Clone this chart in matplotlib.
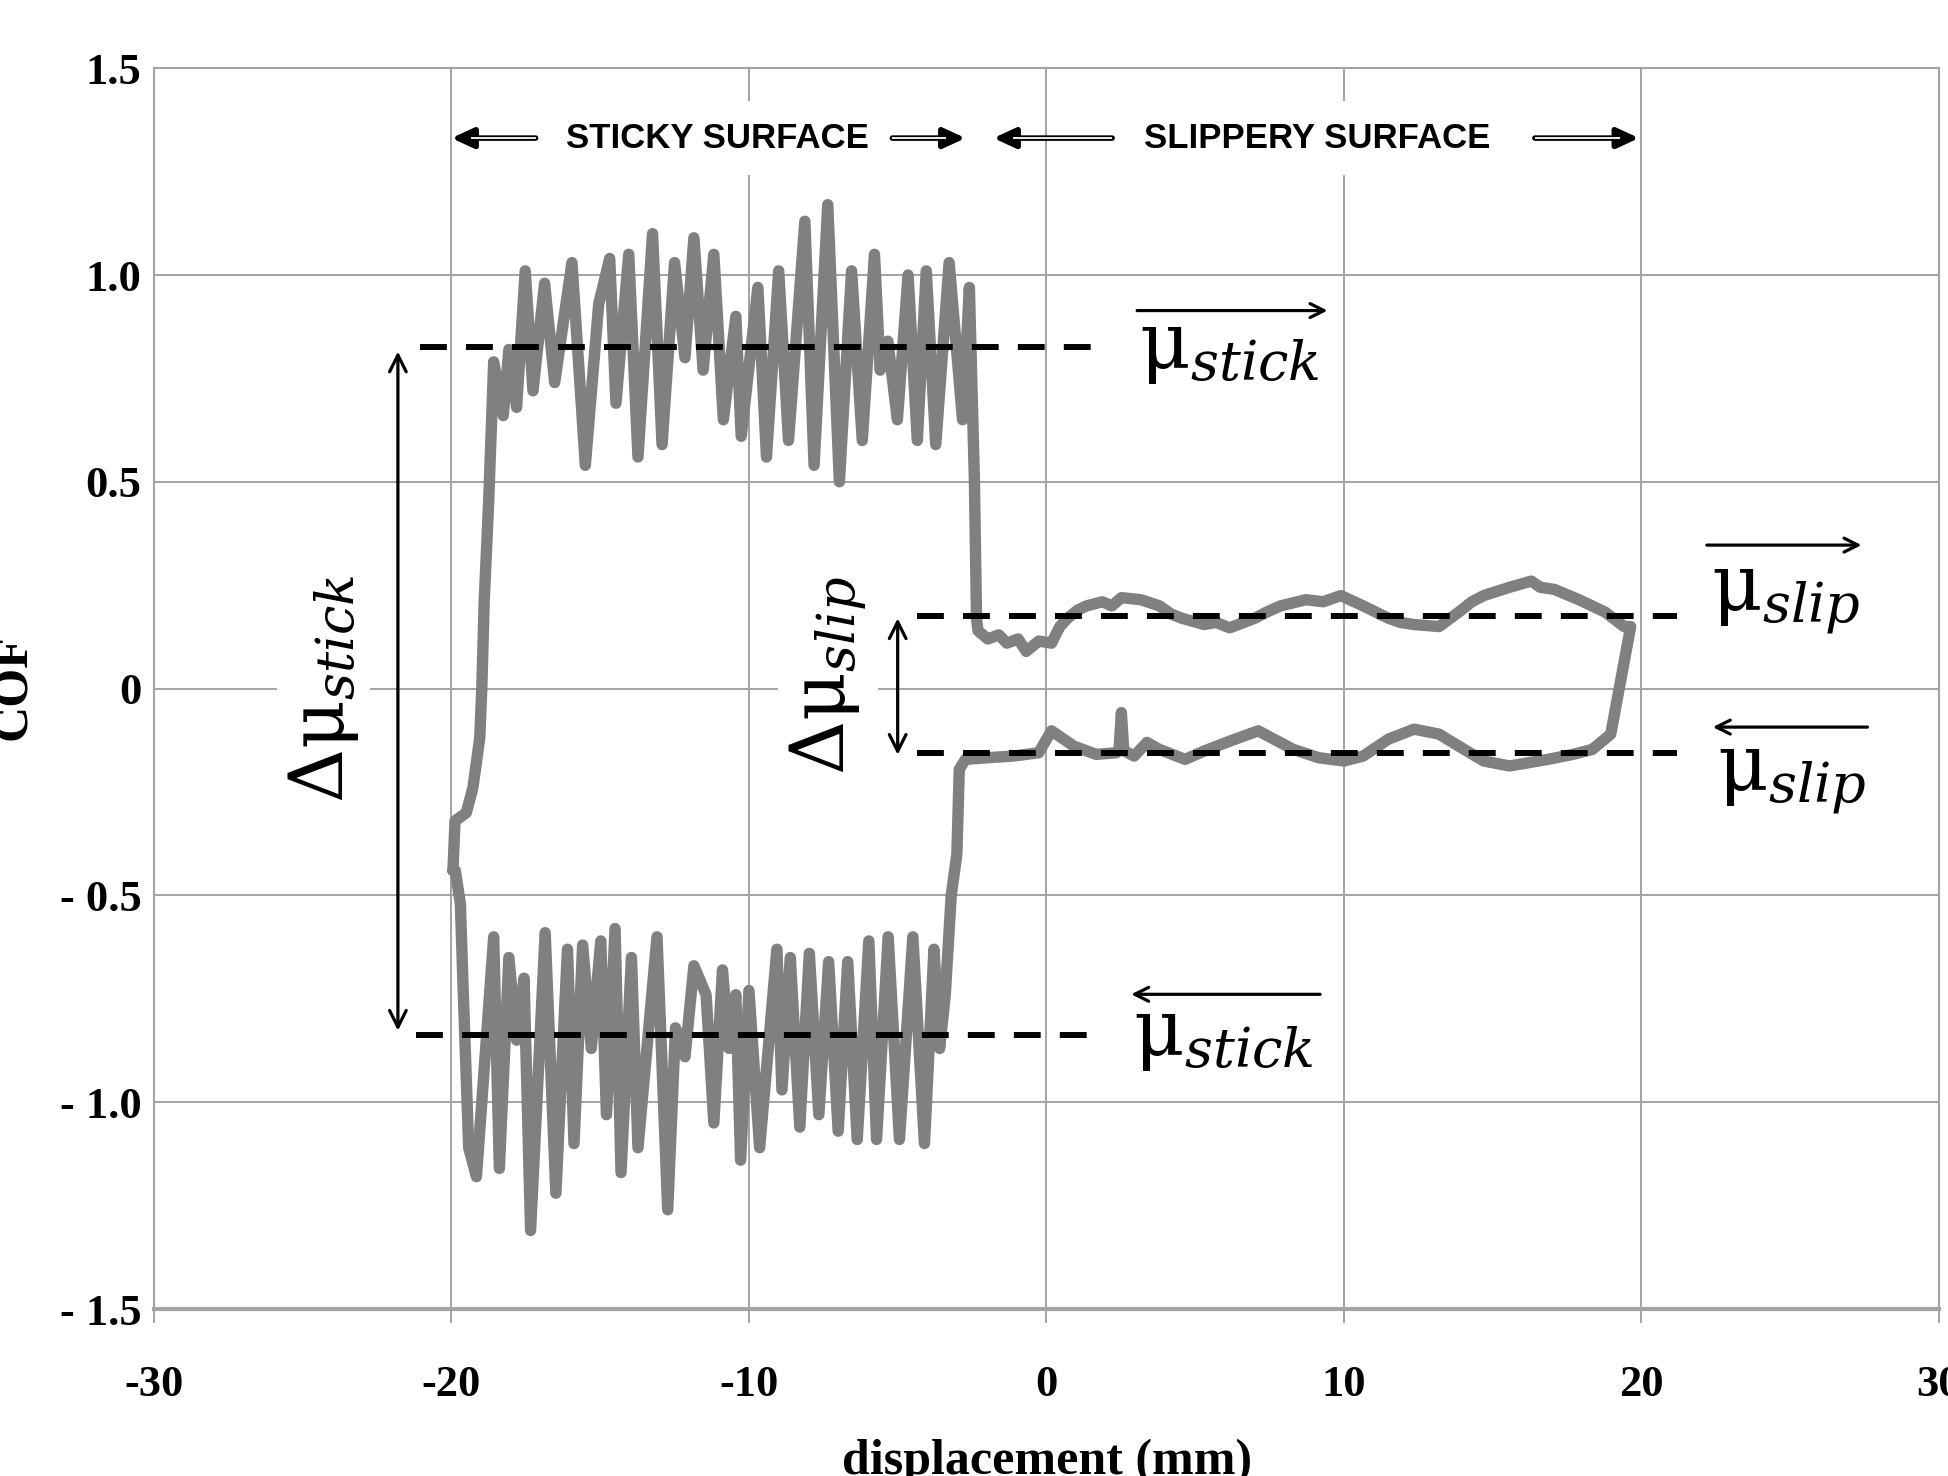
import numpy as np
import matplotlib
matplotlib.use("Agg")
import matplotlib.pyplot as plt

plt.rcParams["mathtext.fontset"] = "custom"
plt.rcParams["mathtext.rm"] = "DejaVu Serif"
plt.rcParams["mathtext.it"] = "DejaVu Serif:italic"

# ---- data ----
# sticky surface, forward stroke (left rise + upper noisy band + drop)
sticky_fwd_x = [-19.95, -19.88, -19.50, -19.28, -19.05, -18.98, -18.90, -18.75, -18.58, -18.26,
                -18.07, -17.81, -17.52, -17.26, -16.87, -16.53, -15.95, -15.50, -15.05, -14.68,
                -14.47, -14.04, -13.73, -13.24, -12.92, -12.50, -12.15, -11.85, -11.54, -11.18,
                -10.86, -10.44, -10.26, -9.70, -9.41, -9.00, -8.67, -8.12, -7.81, -7.35,
                -6.96, -6.55, -6.19, -5.78, -5.59, -5.33, -5.01, -4.65, -4.34, -4.04,
                -3.72, -3.27, -2.82, -2.59, -2.42, -2.35]
sticky_fwd_y = [-0.44, -0.32, -0.30, -0.24, -0.12, 0.00, 0.21, 0.45, 0.79, 0.66,
                0.82, 0.68, 1.01, 0.72, 0.98, 0.74, 1.03, 0.54, 0.93, 1.04,
                0.69, 1.05, 0.56, 1.10, 0.59, 1.03, 0.80, 1.09, 0.77, 1.05,
                0.65, 0.90, 0.61, 0.97, 0.56, 1.01, 0.60, 1.13, 0.54, 1.17,
                0.50, 1.01, 0.60, 1.05, 0.77, 0.84, 0.65, 1.00, 0.60, 1.01,
                0.59, 1.03, 0.65, 0.97, 0.50, 0.17]

# slippery surface, forward stroke
slip_fwd_x = [-2.30, -1.97, -1.60, -1.33, -0.95, -0.68, -0.26, 0.17, 0.45, 0.71,
              1.05, 1.35, 1.88, 2.20, 2.52, 3.17, 3.80, 4.20, 4.56, 5.30,
              5.70, 6.16, 7.00, 7.40, 7.87, 8.73, 9.30, 9.90, 10.65, 11.50,
              11.90, 12.36, 13.20, 13.86, 14.30, 14.70, 15.57, 16.30, 16.60, 17.07,
              17.90, 18.78, 19.42, 19.64]
slip_fwd_y = [0.14, 0.12, 0.13, 0.11, 0.12, 0.09, 0.115, 0.11, 0.15, 0.17,
              0.19, 0.20, 0.21, 0.20, 0.22, 0.215, 0.20, 0.18, 0.17, 0.155,
              0.16, 0.147, 0.17, 0.185, 0.20, 0.215, 0.21, 0.225, 0.20, 0.17,
              0.16, 0.155, 0.15, 0.185, 0.21, 0.225, 0.245, 0.26, 0.245, 0.24,
              0.215, 0.185, 0.15, 0.15]

# slippery surface, return stroke
slip_rev_x = [18.97, 18.35, 17.70, 16.86, 15.57, 14.70, 13.86, 13.20, 12.36, 11.50,
              10.65, 10.00, 9.15, 8.30, 7.12, 6.16, 5.30, 4.66, 3.80, 3.38,
              2.95, 2.60, 2.52, 2.44, 2.35, 1.67, 0.92, 0.17, -0.26, -1.11,
              -1.97, -2.72, -2.93]
slip_rev_y = [-0.11, -0.147, -0.159, -0.171, -0.187, -0.175, -0.139, -0.11, -0.098, -0.122,
              -0.163, -0.175, -0.167, -0.147, -0.102, -0.127, -0.151, -0.171, -0.147, -0.13,
              -0.163, -0.15, -0.058, -0.15, -0.155, -0.159, -0.139, -0.102, -0.155, -0.163,
              -0.167, -0.171, -0.195]

# sticky surface, return stroke (lower noisy band)
sticky_rev_x = [-3.01, -3.20, -3.40, -3.59, -3.78, -4.10, -4.49, -4.94, -5.32, -5.71,
                -5.97, -6.36, -6.68, -7.00, -7.32, -7.65, -7.97, -8.29, -8.61, -8.89,
                -9.06, -9.64, -10.00, -10.28, -10.44, -10.67, -10.89, -11.18, -11.44, -11.85,
                -12.15, -12.47, -12.73, -13.09, -13.73, -13.95, -14.30, -14.50, -14.79, -14.98,
                -15.30, -15.59, -15.88, -16.10, -16.49, -16.85, -17.34, -17.56, -17.81, -18.07,
                -18.39, -18.58, -19.16, -19.42, -19.61, -19.70, -19.87]
sticky_rev_y = [-0.40, -0.50, -0.74, -0.87, -0.63, -1.10, -0.60, -1.09, -0.60, -1.09,
                -0.61, -1.09, -0.66, -1.07, -0.66, -1.03, -0.64, -1.06, -0.65, -0.97,
                -0.63, -1.11, -0.73, -1.14, -0.74, -0.87, -0.68, -1.05, -0.74, -0.67,
                -0.89, -0.82, -1.26, -0.60, -1.11, -0.65, -1.17, -0.58, -1.03, -0.61,
                -0.87, -0.62, -1.10, -0.63, -1.22, -0.59, -1.31, -0.70, -0.85, -0.65,
                -1.16, -0.60, -1.18, -1.11, -0.72, -0.52, -0.44]

mu_stick_fwd = 0.825
mu_stick_rev = -0.837
mu_slip_fwd = 0.175
mu_slip_rev = -0.155

x_ticks = [-30, -20, -10, 0, 10, 20, 30]
y_ticks = [-1.5, -1.0, -0.5, 0, 0.5, 1.0, 1.5]
y_tick_labels = ["- 1.5", "- 1.0", "- 0.5", "0", "0.5", "1.0", "1.5"]

# ---- figure ----
fig = plt.figure(figsize=(19.49, 14.76), dpi=100)
ax = fig.add_axes([0.0790, 0.1131, 0.9158, 0.8407])

grid_c = "#a3a3a3"
ax.set_xlim(-30, 30)
ax.set_ylim(-1.5, 1.5)
ax.set_xticks(x_ticks)
ax.set_xticklabels([str(t) for t in x_ticks])
ax.set_yticks(y_ticks)
ax.set_yticklabels(y_tick_labels)
ax.grid(True, color=grid_c, lw=1.4, zorder=0)
ax.set_axisbelow(True)
for s in ax.spines.values():
    s.set_color(grid_c)
    s.set_linewidth(1.5)
ax.spines["bottom"].set_linewidth(3)
ax.tick_params(axis="x", length=10, width=1.4, color=grid_c, pad=30)
ax.tick_params(axis="y", length=0, pad=9)
for lab in ax.get_xticklabels() + ax.get_yticklabels():
    lab.set_fontfamily("Liberation Serif")
    lab.set_fontweight("bold")
    lab.set_fontsize(32)

# the friction loop
loop_x = sticky_fwd_x + slip_fwd_x + slip_rev_x + sticky_rev_x + [sticky_fwd_x[0]]
loop_y = sticky_fwd_y + slip_fwd_y + slip_rev_y + sticky_rev_y + [sticky_fwd_y[0]]
ax.plot(loop_x, loop_y, color="#808080", lw=8.2, solid_joinstyle="round",
        solid_capstyle="round", zorder=3)

# mean lines
dash = dict(color="black", lw=4.3, dashes=(4.5, 3.2), zorder=4)
ax.plot([-21.07, 1.8], [mu_stick_fwd] * 2, **dash)
ax.plot([-21.18, 1.6], [mu_stick_rev] * 2, **dash)
ax.plot([-4.34, 21.2], [mu_slip_fwd] * 2, **dash)
ax.plot([-4.34, 21.2], [mu_slip_rev] * 2, **dash)

# delta arrows
ax.annotate("", xy=(-21.8, mu_stick_fwd - 0.01), xytext=(-21.8, mu_stick_rev + 0.01),
            arrowprops=dict(arrowstyle="<->", lw=2.3, color="black", mutation_scale=30,
                            shrinkA=0, shrinkB=0), zorder=5)
ax.annotate("", xy=(-5.0, mu_slip_fwd - 0.005), xytext=(-5.0, mu_slip_rev - 0.005),
            arrowprops=dict(arrowstyle="<->", lw=2.3, color="black", mutation_scale=30,
                            shrinkA=0, shrinkB=0), zorder=5)

box = dict(boxstyle="square,pad=0.12", fc="white", ec="none")
ax.text(-24.3, 0.0, r"$\mathrm{\Delta\mu}_{stick}$", rotation=90, fontsize=54,
        ha="center", va="center", bbox=box, zorder=2)
ax.text(-7.35, 0.03, r"$\mathrm{\Delta\mu}_{slip}$", rotation=90, fontsize=54,
        ha="center", va="center", bbox=box, zorder=2)

# mean labels with direction arrows
def mean_label(x, y, sub, ax_from, ax_to, ay):
    ax.text(x, y, r"$\mathrm{\mu}_{%s}$" % sub, fontsize=56, ha="left", va="baseline", zorder=5)
    ax.annotate("", xy=(ax_to, ay), xytext=(ax_from, ay),
                arrowprops=dict(arrowstyle="->", lw=2.3, color="black", mutation_scale=25,
                                shrinkA=0, shrinkB=0), zorder=5)

mean_label(3.1, 0.775, "stick", 3.05, 9.45, 0.914)
mean_label(2.9, -0.885, "stick", 9.2, 2.85, -0.739)
mean_label(22.35, 0.19, "slip", 22.2, 27.4, 0.347)
mean_label(22.55, -0.245, "slip", 27.6, 22.4, -0.093)

# header: surface regions
def head_arrow(x_tail, x_tip, y):
    ax.annotate("", xy=(x_tip, y), xytext=(x_tail, y),
                arrowprops=dict(arrowstyle="-|>,head_length=0.65,head_width=0.3", lw=4,
                                color="black", mutation_scale=20, shrinkA=0, shrinkB=0),
                zorder=5)
    d = 0.65 if x_tip > x_tail else -0.65
    ax.plot([x_tail, x_tip - d], [y, y], color="white", lw=1.3, solid_capstyle="butt", zorder=6)

hy = 1.331
head_arrow(-17.17, -20.0, hy)
head_arrow(-5.18, -2.72, hy)
head_arrow(2.21, -1.78, hy)
head_arrow(16.42, 19.92, hy)
hbox = dict(boxstyle="square,pad=0.6", fc="white", ec="none")
ax.text(-11.07, hy, "STICKY SURFACE", fontsize=25, fontweight="bold", family="Liberation Sans",
        ha="center", va="center", bbox=hbox, zorder=2)
ax.text(9.11, hy, "SLIPPERY SURFACE", fontsize=25, fontweight="bold", family="Liberation Sans",
        ha="center", va="center", bbox=hbox, zorder=2)

# axis titles (partly cut off by the image edge, as in the source)
fig.text(36 / 1949, 1 - 687 / 1476, "COF", rotation=90, ha="right", va="center",
         fontsize=36, fontweight="bold", family="Liberation Serif")
fig.text(1047 / 1949, 1 - 1462 / 1476, "displacement (mm)", ha="center", va="center",
         fontsize=36, fontweight="bold", family="Liberation Serif")

fig.savefig("out.png", dpi=100)
